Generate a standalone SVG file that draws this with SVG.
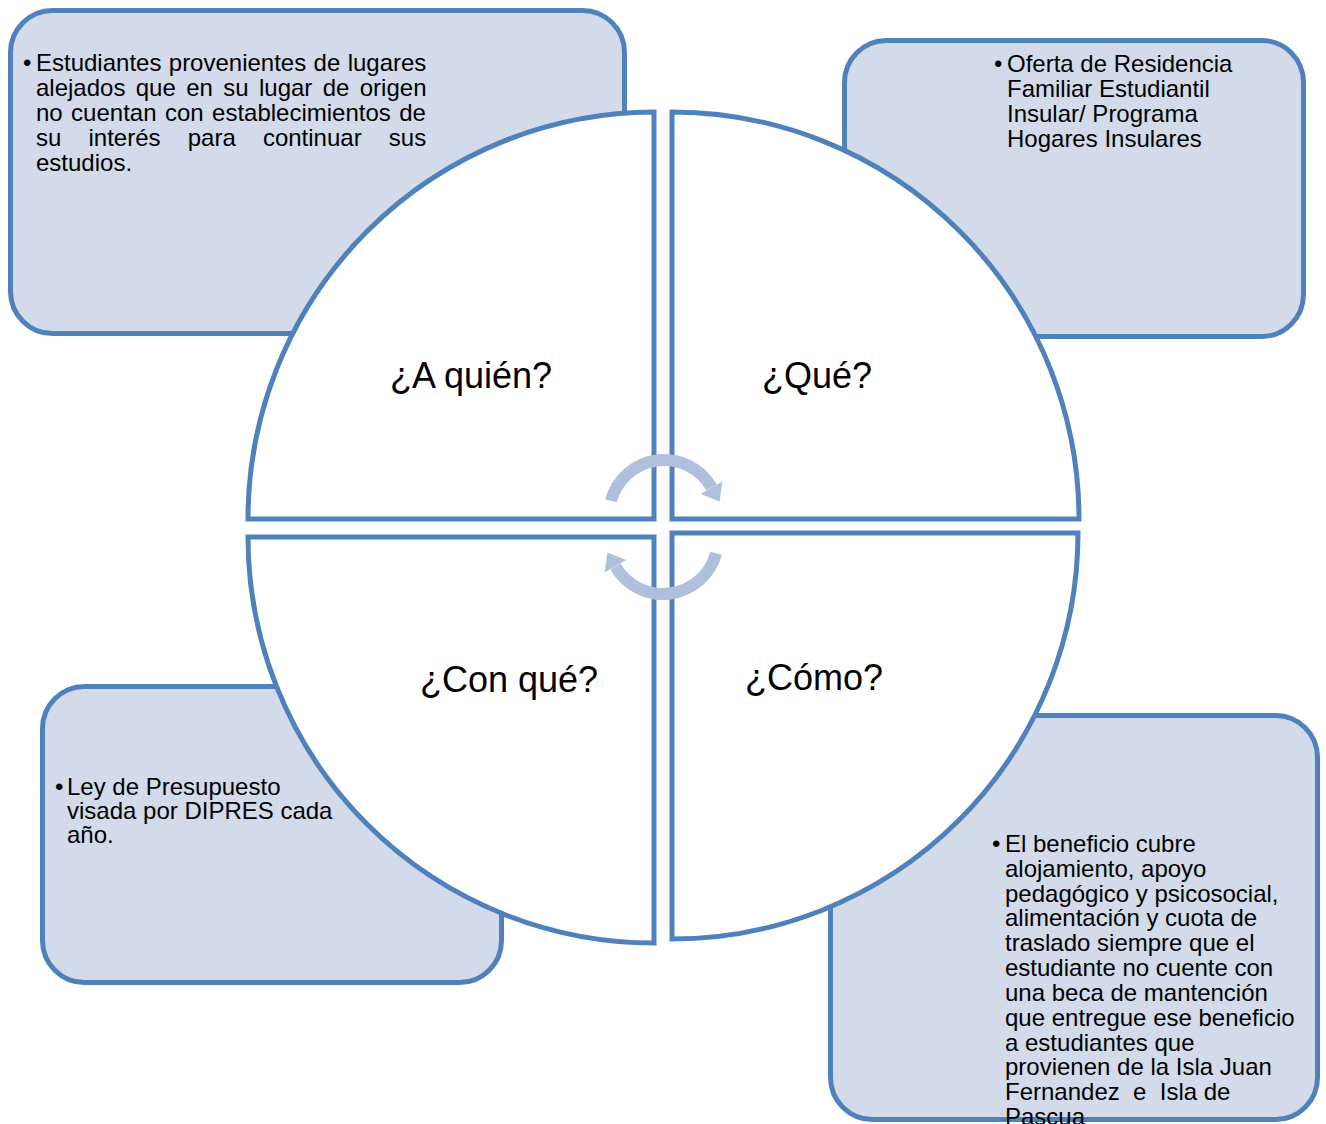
<svg xmlns="http://www.w3.org/2000/svg" width="1326" height="1124" viewBox="0 0 1326 1124">
<style>
.box{fill:#D3DBEA;stroke:#4F81BD;stroke-width:5}
.q{fill:#FFFFFF;stroke:#4F81BD;stroke-width:5;stroke-linejoin:miter}
.t{font-family:"Liberation Sans",Arial,sans-serif;font-size:24px;fill:#000}
.lbl{font-family:"Liberation Sans",Arial,sans-serif;font-size:36px;fill:#000}
.arc{fill:none;stroke:#AFC0DD;stroke-width:12}
.head{fill:#AFC0DD}
</style>
<rect width="1326" height="1124" fill="#FFFFFF"/>
<g id="box-tl">
<rect class="box" x="10.5" y="10.5" width="614" height="323" rx="42"/>
<text class="t" x="23" y="71">•</text>
<text class="t" x="36" y="71" word-spacing="0.7">Estudiantes provenientes de lugares</text>
<text class="t" x="36" y="96" word-spacing="3.7">alejados que en su lugar de origen</text>
<text class="t" x="36" y="121" word-spacing="1.75">no cuentan con establecimientos de</text>
<text class="t" x="36" y="146" word-spacing="20.5">su interés para continuar sus</text>
<text class="t" x="36" y="171">estudios.</text>
</g>
<g id="box-tr">
<rect class="box" x="844.5" y="40.5" width="459" height="296" rx="42"/>
<text class="t" x="994" y="72">•</text>
<text class="t" x="1007" y="72">Oferta de Residencia</text>
<text class="t" x="1007" y="97">Familiar Estudiantil</text>
<text class="t" x="1007" y="122">Insular/ Programa</text>
<text class="t" x="1007" y="147">Hogares Insulares</text>
</g>
<g id="box-bl">
<rect class="box" x="42.5" y="686.5" width="459" height="296" rx="42"/>
<text class="t" x="55" y="795">•</text>
<text class="t" x="67" y="795">Ley de Presupuesto</text>
<text class="t" x="67" y="819">visada por DIPRES cada</text>
<text class="t" x="67" y="843">año.</text>
</g>
<g id="box-br">
<rect class="box" x="830.5" y="715.5" width="487" height="404" rx="42"/>
<text class="t" x="992" y="852">•</text>
<text class="t" x="1005" y="852">El beneficio cubre</text>
<text class="t" x="1005" y="877">alojamiento, apoyo</text>
<text class="t" x="1005" y="902">pedagógico y psicosocial,</text>
<text class="t" x="1005" y="926">alimentación y cuota de</text>
<text class="t" x="1005" y="951">traslado siempre que el</text>
<text class="t" x="1005" y="976">estudiante no cuente con</text>
<text class="t" x="1005" y="1001">una beca de mantención</text>
<text class="t" x="1005" y="1026">que entregue ese beneficio</text>
<text class="t" x="1005" y="1051">a estudiantes que</text>
<text class="t" x="1005" y="1075">provienen de la Isla Juan</text>
<text class="t" x="1005" y="1100" xml:space="preserve" style="white-space:pre">Fernandez  e  Isla de</text>
<text class="t" x="1005" y="1125">Pascua</text>
</g>
<g id="q-tl">
<path class="q" d="M654 519 L248 519 A407 407 0 0 1 654 112 Z"/>
<text class="lbl" x="390" y="388">¿A quién?</text>
</g>
<g id="q-tr">
<path class="q" d="M672 519 L672 112 A407 407 0 0 1 1079 519 Z"/>
<text class="lbl" x="762" y="388">¿Qué?</text>
</g>
<g id="q-bl">
<path class="q" d="M654 537 L248 537 A406 406 0 0 0 654 943 Z"/>
<text class="lbl" x="420" y="692">¿Con qué?</text>
</g>
<g id="q-br">
<path class="q" d="M672 533 L1078 533 A406 406 0 0 1 672 939 Z"/>
<text class="lbl" x="745" y="690">¿Cómo?</text>
</g>
<g id="connectors">
<g id="arrow-top">
<path class="arc" d="M610.9 500.8 A55 55 0 0 1 711.6 487.5"/>
<polygon class="head" points="700.8,494 722.4,481.5 719.6,501.5"/>
</g>
<g id="arrow-bottom" transform="rotate(180 663.5 527)">
<path class="arc" d="M610.9 500.8 A55 55 0 0 1 711.6 487.5"/>
<polygon class="head" points="700.8,494 722.4,481.5 719.6,501.5"/>
</g>
</g>
</svg>
